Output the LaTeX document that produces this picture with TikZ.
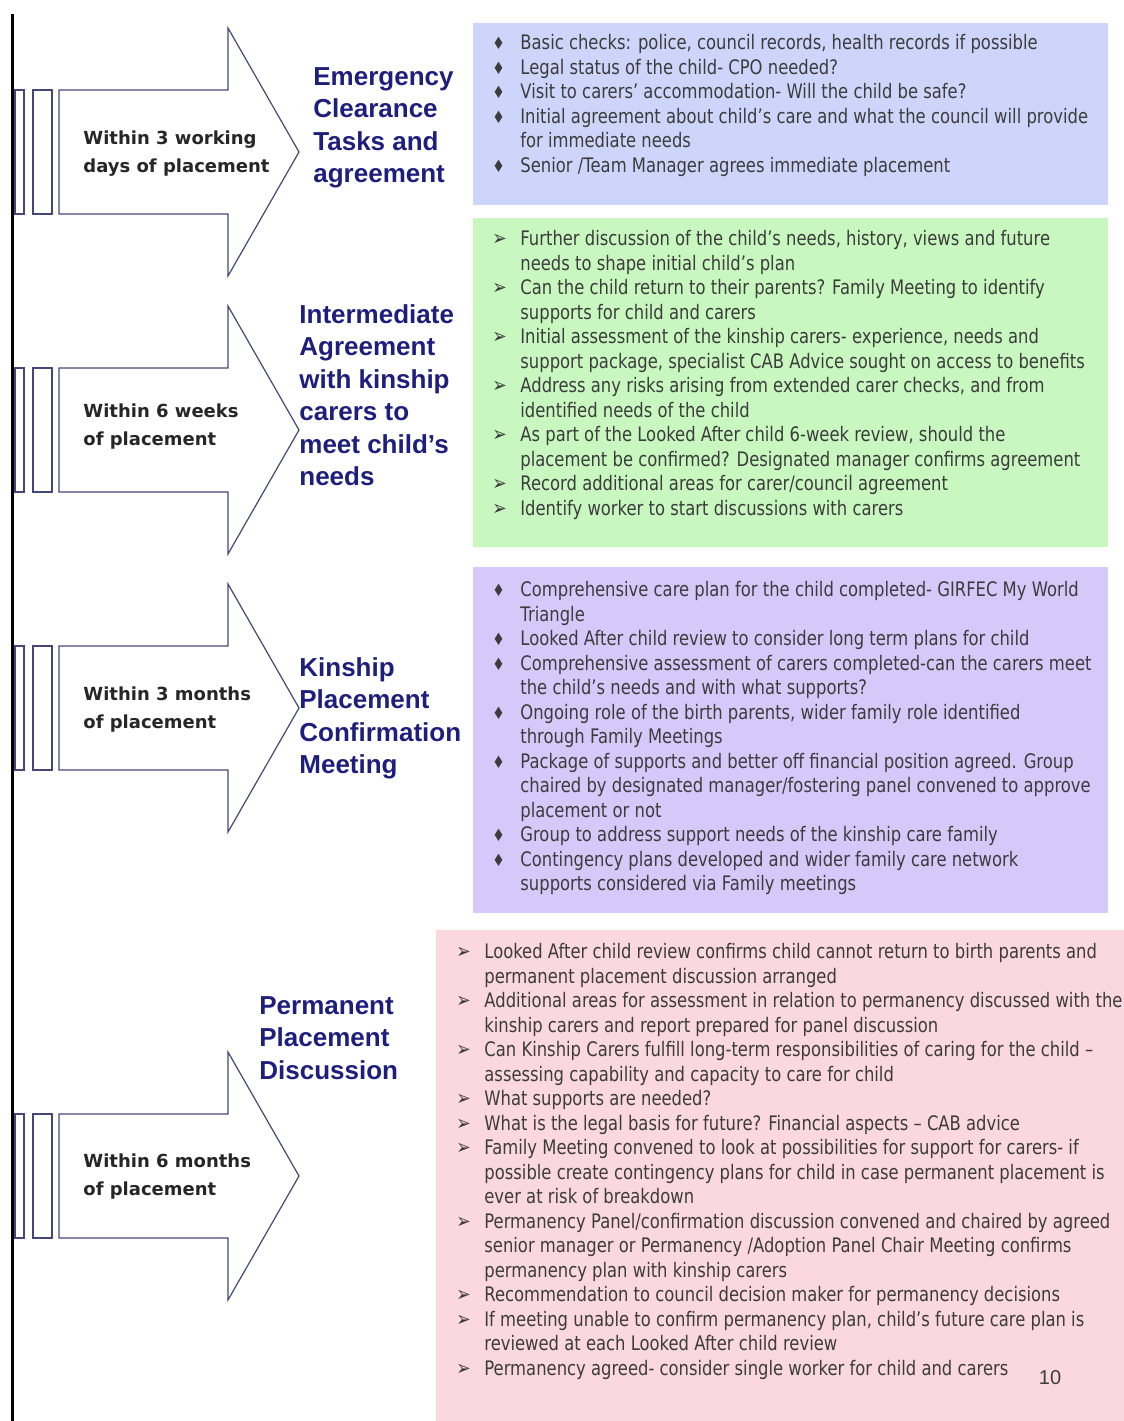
\documentclass[tikz,border=0pt]{standalone}
\usepackage{fontspec}
\setmainfont{DejaVu Sans}
\newfontfamily\bodyfont[FakeStretch=0.82]{DejaVu Sans}
\newfontfamily\whenfont{DejaVu Sans}
\newfontfamily\headfont{Liberation Sans}
\usetikzlibrary{positioning}

\definecolor{navy}{RGB}{30,30,125}
\definecolor{outline}{RGB}{70,70,120}
\definecolor{boxblue}{RGB}{205,214,250}
\definecolor{boxgreen}{RGB}{200,248,192}
\definecolor{boxpurple}{RGB}{215,200,250}
\definecolor{boxpink}{RGB}{250,215,225}
\definecolor{bodytext}{RGB}{60,60,60}

\newcommand\dbul{{\fontsize{8.5}{8}\selectfont\char"2666}}
\newcommand\abul{{\fontsize{10.5}{8}\selectfont\char"27A2}}

\tikzset{
  phase/.style={draw=outline, line width=0.6pt, fill=white},
  when/.style={anchor=west, align=left, inner sep=0pt,
    font=\whenfont\bfseries\fontsize{9}{14}\selectfont, text=black!85},
  stage/.style={anchor=west, align=left, inner sep=0pt,
    font=\headfont\bfseries\fontsize{13}{16.25}\selectfont, text=navy},
  panel/.style={anchor=north west, inner sep=0pt, draw=none},
  items/.style={anchor=north west, inner sep=0pt,
    font=\bodyfont\fontsize{10}{12.25}\selectfont, text=bodytext}
}

\begin{document}
\begin{tikzpicture}[x=0.5pt,y=-0.5pt]
\useasboundingbox (0,0) rectangle (1124,1421);

% time line
\draw[line width=1.5pt] (12.5,14) -- (12.5,1421);

% phase arrows
\foreach \cy in {152,430,708,1176}{
  \draw[phase] (15,\cy-62) rectangle (24,\cy+62);
  \draw[phase] (33,\cy-62) rectangle (52,\cy+62);
  \draw[phase] (59,\cy-62) -- (228,\cy-62) -- (228,\cy-124) -- (299,\cy)
    -- (228,\cy+124) -- (228,\cy+62) -- (59,\cy+62) -- cycle;
}

\node[when] (when1) at (83,154) {Within 3 working\\days of placement};
\node[when] (when2) at (83,427) {Within 6 weeks\\of placement};
\node[when] (when3) at (83,710) {Within 3 months\\of placement};
\node[when] (when4) at (83,1177) {Within 6 months\\of placement};

\node[stage] (stage1) at (313,128) {Emergency\\Clearance\\Tasks and\\agreement};
\node[stage] (stage2) at (299,395) {Intermediate\\Agreement\\with kinship\\carers to\\meet child’s\\needs};
\node[stage] (stage3) at (299,718.5) {Kinship\\Placement\\Confirmation\\Meeting};
\node[stage] (stage4) at (259,1038) {Permanent\\Placement\\Discussion};

% coloured panels
\node[panel, fill=boxblue, minimum width=317.5pt, minimum height=91pt] (blue) at (473,23) {};
\node[panel, fill=boxgreen, minimum width=317.5pt, minimum height=164.5pt] (green) at (473,218) {};
\node[panel, fill=boxpurple, minimum width=317.5pt, minimum height=173pt] (purple) at (473,567) {};
\node[panel, fill=boxpink, minimum width=344pt, minimum height=245.5pt] (pink) at (436,930) {};

\node[items] (blueitems) at (492,32) {\begin{tabular}{@{}p{14pt}@{}l@{}}
\dbul & Basic checks: police, council records, health records if possible\\
\dbul & Legal status of the child- CPO needed?\\
\dbul & Visit to carers’ accommodation- Will the child be safe?\\
\dbul & Initial agreement about child’s care and what the council will provide\\
      & for immediate needs\\
\dbul & Senior /Team Manager agrees immediate placement
\end{tabular}};

\node[items] (greenitems) at (492,228) {\begin{tabular}{@{}p{14pt}@{}l@{}}
\abul & Further discussion of the child’s needs, history, views and future\\
      & needs to shape initial child’s plan\\
\abul & Can the child return to their parents? Family Meeting to identify\\
      & supports for child and carers\\
\abul & Initial assessment of the kinship carers- experience, needs and\\
      & support package, specialist CAB Advice sought on access to benefits\\
\abul & Address any risks arising from extended carer checks, and from\\
      & identified needs of the child\\
\abul & As part of the Looked After child 6-week review, should the\\
      & placement be confirmed? Designated manager confirms agreement\\
\abul & Record additional areas for carer/council agreement\\
\abul & Identify worker to start discussions with carers
\end{tabular}};

\node[items] (purpleitems) at (492,579) {\begin{tabular}{@{}p{14pt}@{}l@{}}
\dbul & Comprehensive care plan for the child completed- GIRFEC My World\\
      & Triangle\\
\dbul & Looked After child review to consider long term plans for child\\
\dbul & Comprehensive assessment of carers completed-can the carers meet\\
      & the child’s needs and with what supports?\\
\dbul & Ongoing role of the birth parents, wider family role identified\\
      & through Family Meetings\\
\dbul & Package of supports and better off financial position agreed. Group\\
      & chaired by designated manager/fostering panel convened to approve\\
      & placement or not\\
\dbul & Group to address support needs of the kinship care family\\
\dbul & Contingency plans developed and wider family care network\\
      & supports considered via Family meetings
\end{tabular}};

\node[items] (pinkitems) at (456,941) {\begin{tabular}{@{}p{14pt}@{}l@{}}
\abul & Looked After child review confirms child cannot return to birth parents and\\
      & permanent placement discussion arranged\\
\abul & Additional areas for assessment in relation to permanency discussed with the\\
      & kinship carers and report prepared for panel discussion\\
\abul & Can Kinship Carers fulfill long-term responsibilities of caring for the child –\\
      & assessing capability and capacity to care for child\\
\abul & What supports are needed?\\
\abul & What is the legal basis for future? Financial aspects – CAB advice\\
\abul & Family Meeting convened to look at possibilities for support for carers- if\\
      & possible create contingency plans for child in case permanent placement is\\
      & ever at risk of breakdown\\
\abul & Permanency Panel/confirmation discussion convened and chaired by agreed\\
      & senior manager or Permanency /Adoption Panel Chair Meeting confirms\\
      & permanency plan with kinship carers\\
\abul & Recommendation to council decision maker for permanency decisions\\
\abul & If meeting unable to confirm permanency plan, child’s future care plan is\\
      & reviewed at each Looked After child review\\
\abul & Permanency agreed- consider single worker for child and carers
\end{tabular}};

\node[font=\headfont\fontsize{10}{12}\selectfont, text=bodytext, inner sep=0pt] (pageno) at (1050,1378) {10};
\end{tikzpicture}
\end{document}
